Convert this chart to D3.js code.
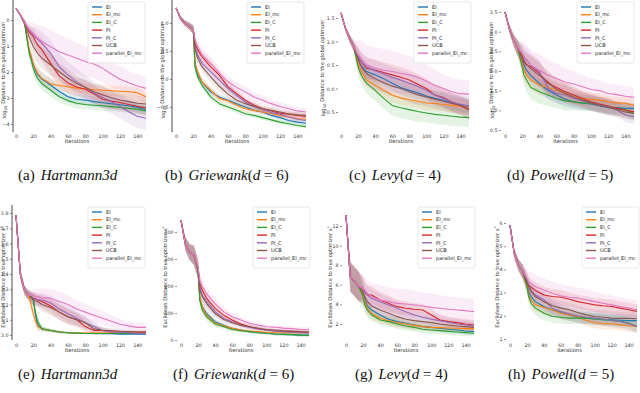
<!DOCTYPE html>
<html><head><meta charset="utf-8">
<script src="https://cdn.jsdelivr.net/npm/d3@7"></script>
<style>body{margin:0;background:#fff}</style>
</head><body>
<svg id="c" width="640" height="393"></svg>
<script>
const iters = [0,5,10,15,20,22,25,30,40,50,60,70,80,90,100,110,120,130,140,150];
const methods = ["EI","EI_mc","EI_C","PI","PI_C","UCB","parallel_EI_mc"];
const colors = ["#1f77b4","#ff7f0e","#2ca02c","#d62728","#9467bd","#8c564b","#e377c2"];
const xTicks = [0,20,40,60,80,100,120,140];

// (a) Hartmann3d, log10 distance to global optimum
const meanA = [
 [0.45,0.19,-0.13,-1.15,-1.73,-1.9,-2.1,-2.28,-2.5,-2.75,-2.95,-3.05,-3.08,-3.14,-3.18,-3.22,-3.26,-3.3,-3.36,-3.45],
 [0.45,0.19,-0.13,-1.1,-1.7,-1.85,-2.05,-2.25,-2.45,-2.52,-2.57,-2.62,-2.65,-2.68,-2.7,-2.72,-2.74,-2.76,-2.8,-2.95],
 [0.45,0.19,-0.15,-1.25,-1.85,-2.05,-2.25,-2.45,-2.7,-2.95,-3.1,-3.2,-3.25,-3.28,-3.3,-3.33,-3.36,-3.4,-3.43,-3.5],
 [0.45,0.19,-0.1,-0.45,-0.64,-0.78,-0.96,-1.15,-1.67,-2.15,-2.42,-2.58,-2.66,-2.85,-3.05,-3.12,-3.17,-3.25,-3.32,-3.38],
 [0.45,0.19,-0.1,-0.38,-0.58,-0.65,-0.74,-0.9,-1.28,-1.8,-2.12,-2.37,-2.59,-2.82,-2.97,-3.14,-3.33,-3.53,-3.7,-3.78],
 [0.45,0.19,-0.12,-0.64,-1.03,-1.13,-1.28,-1.47,-1.73,-1.99,-2.24,-2.44,-2.59,-2.76,-2.88,-2.99,-3.08,-3.14,-3.2,-3.23],
 [0.45,0.19,-0.1,-0.36,-0.51,-0.6,-0.7,-0.83,-1.03,-1.22,-1.35,-1.47,-1.6,-1.69,-1.86,-2.08,-2.28,-2.41,-2.54,-2.63]
];
const sdA = [
 [0,0.05,0.1,0.2,0.25,0.25,0.25,0.25,0.25,0.25,0.22,0.2,0.2,0.2,0.2,0.2,0.2,0.2,0.2,0.2],
 [0,0.05,0.1,0.2,0.25,0.25,0.25,0.25,0.22,0.2,0.2,0.2,0.2,0.2,0.2,0.2,0.2,0.2,0.2,0.2],
 [0,0.05,0.1,0.2,0.25,0.25,0.25,0.25,0.25,0.22,0.2,0.2,0.18,0.18,0.18,0.18,0.18,0.18,0.18,0.18],
 [0,0.05,0.1,0.2,0.3,0.35,0.4,0.45,0.45,0.4,0.4,0.35,0.35,0.35,0.3,0.3,0.3,0.3,0.3,0.3],
 [0,0.05,0.1,0.2,0.3,0.35,0.4,0.45,0.5,0.5,0.5,0.5,0.45,0.45,0.45,0.45,0.45,0.45,0.45,0.45],
 [0,0.05,0.1,0.25,0.35,0.4,0.4,0.4,0.4,0.35,0.35,0.3,0.3,0.3,0.3,0.3,0.3,0.3,0.3,0.3],
 [0,0.05,0.15,0.3,0.4,0.45,0.5,0.6,0.65,0.65,0.65,0.6,0.6,0.55,0.55,0.5,0.5,0.45,0.45,0.45]
];
const yTicksA = [0,-1,-2,-3,-4];

// (b) Griewank(d=6)
const meanB = [
 [1.27,1.09,1.0,0.95,0.88,0.22,0.07,-0.05,-0.23,-0.32,-0.38,-0.44,-0.5,-0.56,-0.59,-0.65,-0.69,-0.74,-0.77,-0.79],
 [1.27,1.09,1.0,0.95,0.88,0.28,0.13,-0.05,-0.2,-0.35,-0.39,-0.47,-0.53,-0.56,-0.59,-0.62,-0.65,-0.68,-0.71,-0.72],
 [1.27,1.09,1.0,0.95,0.88,0.22,0.04,-0.11,-0.32,-0.44,-0.5,-0.56,-0.62,-0.65,-0.69,-0.73,-0.77,-0.8,-0.83,-0.85],
 [1.27,1.09,1.0,0.95,0.88,0.64,0.52,0.4,0.22,0.07,-0.14,-0.26,-0.38,-0.47,-0.53,-0.57,-0.61,-0.63,-0.65,-0.67],
 [1.27,1.09,1.0,0.95,0.88,0.58,0.43,0.28,0.13,-0.02,-0.17,-0.29,-0.41,-0.49,-0.55,-0.6,-0.63,-0.68,-0.72,-0.74],
 [1.27,1.09,1.0,0.95,0.88,0.52,0.37,0.22,0.04,-0.13,-0.27,-0.38,-0.44,-0.49,-0.53,-0.56,-0.59,-0.62,-0.64,-0.65],
 [1.27,1.09,1.0,0.95,0.88,0.7,0.58,0.43,0.28,0.1,-0.05,-0.15,-0.23,-0.32,-0.38,-0.44,-0.49,-0.53,-0.57,-0.59]
];
const sdB_low = [0,0.04,0.05,0.06,0.07,0.1,0.08,0.07,0.06,0.05,0.05,0.05,0.05,0.04,0.04,0.04,0.04,0.04,0.04,0.04];
const sdB_mid = [0,0.04,0.05,0.06,0.08,0.1,0.1,0.1,0.1,0.09,0.08,0.07,0.06,0.06,0.05,0.05,0.05,0.05,0.05,0.05];
const sdB_hi  = [0,0.04,0.05,0.06,0.08,0.12,0.12,0.12,0.12,0.11,0.1,0.1,0.09,0.09,0.08,0.08,0.07,0.07,0.07,0.07];
const yTicksB = [1.0,0.5,0.0,-0.5];

// (c) Levy(d=4)
const meanC = [
 [1.61,1.29,1.07,0.89,0.61,0.54,0.46,0.36,0.29,0.21,0.11,0.02,-0.04,-0.09,-0.16,-0.21,-0.25,-0.31,-0.34,-0.38],
 [1.61,1.29,1.07,0.89,0.54,0.43,0.32,0.18,0.07,-0.04,-0.14,-0.2,-0.24,-0.27,-0.31,-0.32,-0.34,-0.36,-0.38,-0.39],
 [1.61,1.29,1.07,0.89,0.46,0.36,0.24,0.11,-0.04,-0.21,-0.36,-0.41,-0.45,-0.49,-0.52,-0.55,-0.57,-0.59,-0.61,-0.62],
 [1.61,1.29,1.07,0.89,0.68,0.61,0.54,0.43,0.39,0.34,0.29,0.24,0.18,0.09,0.0,-0.14,-0.19,-0.29,-0.36,-0.46],
 [1.61,1.29,1.07,0.89,0.68,0.62,0.55,0.46,0.38,0.31,0.24,0.18,0.11,0.05,-0.04,-0.14,-0.21,-0.29,-0.34,-0.38],
 [1.61,1.29,1.07,0.89,0.64,0.54,0.43,0.32,0.21,0.12,0.05,0.0,-0.07,-0.13,-0.18,-0.23,-0.27,-0.32,-0.36,-0.43],
 [1.61,1.29,1.07,0.89,0.71,0.68,0.61,0.5,0.43,0.39,0.36,0.32,0.29,0.24,0.16,0.07,0.0,-0.07,-0.11,-0.12]
];
const sdC_low = [0,0.05,0.08,0.1,0.15,0.15,0.15,0.15,0.15,0.15,0.15,0.15,0.15,0.15,0.15,0.15,0.15,0.15,0.15,0.15];
const sdC_mid = [0,0.05,0.08,0.1,0.2,0.2,0.2,0.22,0.22,0.22,0.22,0.22,0.22,0.22,0.2,0.2,0.2,0.2,0.2,0.2];
const sdC_hi  = [0,0.05,0.1,0.15,0.3,0.35,0.4,0.42,0.45,0.45,0.45,0.42,0.4,0.38,0.35,0.33,0.3,0.3,0.3,0.3];
const yTicksC = [1.5,1.0,0.5,0.0,-0.5];

// (d) Powell(d=5)
const meanD = [
 [3.5,3.08,2.78,2.57,2.27,2.15,2.02,1.89,1.68,1.51,1.39,1.28,1.22,1.18,1.16,1.11,1.07,1.07,1.05,1.05],
 [3.5,3.08,2.78,2.57,2.19,2.02,1.89,1.77,1.64,1.58,1.51,1.43,1.34,1.3,1.28,1.26,1.22,1.19,1.18,1.13],
 [3.5,3.08,2.78,2.57,2.11,1.89,1.77,1.58,1.47,1.39,1.3,1.24,1.22,1.19,1.18,1.13,1.09,1.05,1.01,0.92],
 [3.5,3.08,2.78,2.57,2.36,2.23,2.15,2.11,1.94,1.68,1.58,1.47,1.39,1.3,1.22,1.16,1.11,1.05,1.01,0.96],
 [3.5,3.08,2.78,2.57,2.44,2.36,2.29,2.15,1.98,1.56,1.43,1.39,1.3,1.24,1.19,1.13,1.09,1.01,0.88,0.84],
 [3.5,3.08,2.78,2.57,2.4,2.27,2.17,2.06,1.89,1.72,1.53,1.43,1.34,1.26,1.19,1.13,1.07,1.02,0.96,0.92],
 [3.5,3.08,2.78,2.57,2.44,2.36,2.27,2.15,2.02,1.89,1.81,1.72,1.67,1.6,1.53,1.5,1.43,1.4,1.36,1.33]
];
const sdD_low = [0,0.1,0.15,0.2,0.25,0.25,0.25,0.25,0.25,0.22,0.2,0.2,0.18,0.18,0.17,0.16,0.15,0.15,0.15,0.15];
const sdD_mid = [0,0.1,0.15,0.2,0.25,0.28,0.3,0.3,0.3,0.28,0.25,0.25,0.22,0.2,0.2,0.2,0.2,0.18,0.18,0.18];
const sdD_hi  = [0,0.1,0.15,0.2,0.3,0.35,0.4,0.4,0.4,0.4,0.38,0.35,0.33,0.3,0.28,0.27,0.25,0.25,0.25,0.25];
const yTicksD = [3.5,3.0,2.5,2.0,1.5,1.0,0.5];

// (e) Hartmann3d, Euclidean distance to true optimizer
const meanE = [
 [3.785,3.40,3.29,3.26,3.23,3.15,3.065,3.04,3.03,3.02,3.015,3.012,3.01,3.01,3.008,3.008,3.006,3.006,3.005,3.005],
 [3.785,3.40,3.29,3.25,3.14,3.1,3.055,3.04,3.03,3.02,3.015,3.012,3.012,3.012,3.012,3.012,3.012,3.012,3.012,3.012],
 [3.785,3.40,3.29,3.26,3.23,3.16,3.09,3.04,3.03,3.02,3.015,3.012,3.01,3.01,3.01,3.01,3.01,3.01,3.01,3.01],
 [3.785,3.40,3.29,3.26,3.24,3.24,3.23,3.22,3.19,3.15,3.12,3.1,3.055,3.03,3.03,3.02,3.02,3.02,3.02,3.02],
 [3.785,3.40,3.29,3.26,3.24,3.235,3.232,3.23,3.21,3.17,3.14,3.11,3.08,3.055,3.03,3.02,3.018,3.015,3.01,3.01],
 [3.785,3.40,3.29,3.26,3.23,3.225,3.22,3.2,3.18,3.15,3.12,3.1,3.08,3.04,3.03,3.03,3.025,3.022,3.02,3.02],
 [3.785,3.40,3.29,3.26,3.26,3.255,3.25,3.245,3.24,3.22,3.2,3.17,3.15,3.13,3.11,3.09,3.07,3.06,3.05,3.05]
];
const sdE_low = [0,0.03,0.03,0.03,0.04,0.04,0.03,0.015,0.01,0.008,0.006,0.005,0.005,0.005,0.005,0.005,0.005,0.005,0.005,0.005];
const sdE_mid = [0,0.03,0.03,0.03,0.04,0.04,0.04,0.045,0.05,0.05,0.05,0.045,0.04,0.03,0.02,0.015,0.012,0.01,0.01,0.01];
const sdE_hi  = [0,0.03,0.03,0.035,0.04,0.045,0.05,0.06,0.065,0.065,0.06,0.06,0.055,0.05,0.045,0.04,0.035,0.03,0.03,0.03];
const yTicksE = [3.8,3.7,3.6,3.5,3.4,3.3,3.2,3.1,3.0];

// (f) Griewank(d=6)
const meanF = [
 [443,357,326,314,258,148,123,98,68,55,43,37,31,28,25,22,21,20,18,18],
 [443,357,326,314,258,160,123,92,62,53,43,37,33,31,28,27,27,27,27,27],
 [443,357,326,314,258,148,111,86,59,49,39,34,31,27,25,22,21,20,18,17],
 [443,357,326,314,265,209,185,154,117,92,74,59,49,43,37,34,33,31,30,28],
 [443,357,326,314,265,197,166,142,105,80,68,55,47,41,37,33,31,28,27,26],
 [443,357,326,314,262,185,160,135,98,76,64,55,49,43,39,37,34,33,31,30],
 [443,357,326,314,268,222,197,172,135,105,86,74,62,55,49,47,44,42,39,39]
];
const sdF_low = [0,25,30,35,35,25,20,15,10,8,7,6,5,5,5,5,5,5,5,5];
const sdF_mid = [0,25,30,35,35,25,22,20,16,12,10,9,8,7,6,6,6,6,6,6];
const sdF_hi  = [0,25,30,35,35,28,25,22,20,16,14,12,10,9,8,8,8,8,8,8];
const yTicksF = [0,100,200,300,400];

// (g) Levy(d=4)
const meanG = [
 [13.1,6.83,6.32,5.81,5.13,4.45,3.84,3.43,2.92,2.48,2.24,2.07,1.9,1.73,1.66,1.56,1.46,1.39,1.29,1.22],
 [13.1,6.83,6.32,5.81,4.96,4.28,3.6,3.09,2.58,2.34,2.14,2.0,1.86,1.73,1.66,1.63,1.59,1.56,1.53,1.53],
 [13.1,6.83,6.32,5.81,4.79,3.94,3.43,2.92,2.41,2.24,2.0,1.8,1.66,1.46,1.39,1.32,1.25,1.18,1.12,1.05],
 [13.1,6.83,6.32,5.81,5.64,5.3,4.96,4.96,4.45,4.1,3.77,3.6,3.5,3.43,2.92,2.41,2.24,2.14,2.0,1.9],
 [13.1,6.83,6.32,5.81,5.64,5.3,4.96,4.62,4.28,3.94,3.6,3.26,2.92,2.68,2.48,2.34,2.17,2.0,1.9,1.8],
 [13.1,6.83,6.32,5.81,5.3,4.79,4.28,3.84,3.43,3.09,2.75,2.48,2.34,2.24,2.14,2.0,1.9,1.8,1.73,1.66],
 [13.1,6.83,6.32,5.81,5.64,5.47,5.13,4.79,4.45,4.28,4.1,4.04,3.94,3.84,3.7,3.6,3.5,3.43,3.36,3.26]
];
const sdG_low = [0,1.5,1.5,1.5,1.0,0.8,0.7,0.6,0.5,0.5,0.5,0.45,0.45,0.4,0.4,0.4,0.4,0.35,0.35,0.35];
const sdG_mid = [0,1.5,1.5,1.5,1.2,1.0,1.0,0.9,0.8,0.8,0.7,0.7,0.65,0.6,0.6,0.55,0.5,0.5,0.5,0.5];
const sdG_hi  = [0,1.5,1.5,1.5,1.3,1.3,1.3,1.4,1.5,1.5,1.5,1.5,1.45,1.4,1.4,1.35,1.3,1.3,1.3,1.3];
const yTicksG = [12,10,8,6,4,2];

// (h) Powell(d=5)
const meanH = [
 [5.9,4.69,4.19,3.9,3.4,3.04,2.83,2.61,2.4,2.26,2.14,2.04,1.94,1.9,1.86,1.83,1.83,1.81,1.79,1.79],
 [5.9,4.69,4.19,3.9,3.33,2.9,2.69,2.47,2.37,2.26,2.11,2.04,1.97,1.8,1.71,1.66,1.66,1.61,1.57,1.54],
 [5.9,4.69,4.19,3.9,3.26,2.83,2.54,2.33,2.11,1.97,1.94,1.9,1.9,1.9,1.86,1.83,1.8,1.76,1.69,1.54],
 [5.9,4.69,4.19,3.9,3.47,3.33,3.23,3.09,2.9,2.83,2.8,2.71,2.61,2.54,2.47,2.43,2.4,2.33,2.26,2.19],
 [5.9,4.69,4.19,3.9,3.54,3.33,3.11,2.9,2.69,2.33,2.19,2.09,2.0,1.94,1.9,1.86,1.8,1.76,1.66,1.54],
 [5.9,4.69,4.19,3.9,3.47,3.26,3.04,2.83,2.61,2.43,2.33,2.26,2.14,2.04,1.97,1.94,1.9,1.89,1.89,1.87],
 [5.9,4.69,4.19,3.9,3.61,3.47,3.4,3.26,3.11,2.97,2.86,2.8,2.76,2.69,2.61,2.54,2.47,2.4,2.33,2.26]
];
const sdH_low = [0,0.2,0.25,0.3,0.3,0.3,0.3,0.3,0.3,0.28,0.27,0.26,0.25,0.25,0.25,0.25,0.25,0.25,0.25,0.25];
const sdH_mid = [0,0.2,0.25,0.3,0.35,0.35,0.35,0.35,0.35,0.33,0.32,0.3,0.3,0.3,0.3,0.3,0.3,0.3,0.3,0.3];
const sdH_hi  = [0,0.2,0.25,0.3,0.4,0.45,0.5,0.5,0.5,0.5,0.5,0.48,0.46,0.45,0.44,0.42,0.4,0.4,0.4,0.4];
const yTicksH = [6,5,4,3,2,1];

const captions = [
 ["(a)", [["Hartmann3d", true]]],
 ["(b)", [["Griewank", true], ["(", false], ["d", true], [" = ", false], ["6)", false]]],
 ["(c)", [["Levy", true], ["(", false], ["d", true], [" = ", false], ["4)", false]]],
 ["(d)", [["Powell", true], ["(", false], ["d", true], [" = ", false], ["5)", false]]],
 ["(e)", [["Hartmann3d", true]]],
 ["(f)", [["Griewank", true], ["(", false], ["d", true], [" = ", false], ["6)", false]]],
 ["(g)", [["Levy", true], ["(", false], ["d", true], [" = ", false], ["4)", false]]],
 ["(h)", [["Powell", true], ["(", false], ["d", true], [" = ", false], ["5)", false]]]
];

const panels = [
 {mean: meanA, sd: sdA, yTicks: yTicksA, fmt: d3.format("d"), top: true},
 {mean: meanB, sd: [sdB_low,sdB_low,sdB_low,sdB_mid,sdB_mid,sdB_mid,sdB_hi], yTicks: yTicksB, fmt: d3.format(".1f"), top: true},
 {mean: meanC, sd: [sdC_low,sdC_low,sdC_mid,sdC_mid,sdC_mid,sdC_mid,sdC_hi], yTicks: yTicksC, fmt: d3.format(".1f"), top: true},
 {mean: meanD, sd: [sdD_low,sdD_low,sdD_mid,sdD_mid,sdD_mid,sdD_mid,sdD_hi], yTicks: yTicksD, fmt: d3.format(".1f"), top: true},
 {mean: meanE, sd: [sdE_low,sdE_low,sdE_low,sdE_mid,sdE_mid,sdE_mid,sdE_hi], yTicks: yTicksE, fmt: d3.format(".1f"), top: false},
 {mean: meanF, sd: [sdF_low,sdF_low,sdF_low,sdF_mid,sdF_mid,sdF_mid,sdF_hi], yTicks: yTicksF, fmt: d3.format("d"), top: false},
 {mean: meanG, sd: [sdG_low,sdG_low,sdG_low,sdG_mid,sdG_mid,sdG_mid,sdG_hi], yTicks: yTicksG, fmt: d3.format("d"), top: false},
 {mean: meanH, sd: [sdH_low,sdH_low,sdH_low,sdH_mid,sdH_mid,sdH_mid,sdH_hi], yTicks: yTicksH, fmt: d3.format("d"), top: false}
];

// layout (pixels)
const layout = [
 {sx:13,  x0:16,  x1:146, yv:[0,-4],    yp:[20,124],  leg:[88,2],    ylab:[4,70],    spine:true,  cap:[18,180]},
 {sx:172, x0:176, x1:306, yv:[1,-0.5],  yp:[23,107],  leg:[247,2],   ylab:[163,70],  spine:true,  cap:[165,180]},
 {sx:338, x0:341, x1:469, yv:[1.5,-0.5],yp:[18,112],  leg:[414,2],   ylab:[323,68],  spine:false, cap:[349,180]},
 {sx:501, x0:505, x1:634, yv:[3.5,0.5], yp:[12,130],  leg:[577,2],   ylab:[492,70],  spine:false, cap:[507,180]},
 {sx:12,  x0:16,  x1:146, yv:[3.8,3.0], yp:[213,335], leg:[88,207],  ylab:[3,277],   spine:true,  cap:[18,379]},
 {sx:177, x0:181, x1:309, yv:[0,400],   yp:[340,232], leg:[253,207], ylab:[165,277], spine:false, cap:[173,379]},
 {sx:342, x0:346, x1:474, yv:[12,2],    yp:[226,324], leg:[418,207], ylab:[330,277], spine:false, cap:[355,379]},
 {sx:506, x0:510, x1:637, yv:[6,1],     yp:[223,339], leg:[582,207], ylab:[497,277], spine:false, cap:[508,379]}
];

const svg = d3.select("#c");
svg.append("rect").attr("width",640).attr("height",393).attr("fill","#fff");

panels.forEach((P, pi) => {
  const L = layout[pi];
  const top = P.top ? 0 : 205, bot = P.top ? 132 : 340;
  const x = d3.scaleLinear().domain([0,150]).range([L.x0, L.x1]);
  const y = d3.scaleLinear().domain(L.yv).range(L.yp);
  const g = svg.append("g");

  // bands
  P.mean.forEach((m, k) => {
    const sd = P.sd[k];
    const area = d3.area()
      .x((d,i) => x(iters[i]))
      .y0((d,i) => y(m[i] - sd[i]))
      .y1((d,i) => y(m[i] + sd[i]));
    g.append("path").attr("d", area(m)).attr("fill", colors[k]).attr("fill-opacity", 0.13);
  });
  // lines
  P.mean.forEach((m, k) => {
    const line = d3.line().x((d,i) => x(iters[i])).y(d => y(d));
    g.append("path").attr("d", line(m)).attr("fill","none")
      .attr("stroke", colors[k]).attr("stroke-width", 1.1).attr("stroke-linejoin","round");
  });

  // spine
  if (L.spine) {
    g.append("line").attr("x1", L.sx).attr("x2", L.sx).attr("y1", top).attr("y2", bot)
      .attr("stroke", "#333").attr("stroke-width", 0.9);
  }

  // y axis
  const ya = d3.axisLeft(y).tickValues(P.yTicks).tickSize(2).tickPadding(1.5).tickFormat(P.fmt);
  const yg = g.append("g").attr("transform", `translate(${L.sx},0)`).call(ya);
  yg.select(".domain").remove();
  yg.selectAll(".tick line").attr("stroke", "#444").attr("stroke-width", 0.6);
  yg.selectAll("text").attr("font-size", 4.8).attr("font-family", "DejaVu Sans").attr("fill", "#333");

  // x axis
  const xa = d3.axisBottom(x).tickValues(xTicks).tickSize(0).tickPadding(0);
  const xg = g.append("g").attr("transform", `translate(0,${P.top ? 137.5 : 346.5})`).call(xa);
  xg.select(".domain").remove();
  xg.selectAll("text").attr("y", 0).attr("dy", 0).attr("font-size", 4.8)
    .attr("font-family", "DejaVu Sans").attr("fill", "#333");

  // x label
  g.append("text").attr("x", (L.x0 + L.x1) / 2 - 4).attr("y", P.top ? 143 : 351.5)
    .attr("text-anchor", "middle").attr("font-size", 5.2).attr("font-family", "DejaVu Sans")
    .attr("fill", "#333").text("Iterations");

  // y label
  const yl = g.append("text").attr("transform", `translate(${L.ylab[0]},${L.ylab[1]}) rotate(-90)`)
    .attr("text-anchor", "middle").attr("dy", "0.35em").attr("font-size", 5.2)
    .attr("font-family", "DejaVu Sans").attr("fill", "#333");
  if (P.top) {
    yl.append("tspan").text("log");
    yl.append("tspan").attr("font-size", 3.8).attr("dy", "0.25em").text("10");
    yl.append("tspan").attr("dy", "-0.25em").text(" Distance to the global optimum");
  } else {
    yl.append("tspan").text("Euclidean Distance to true optimizer x");
    yl.append("tspan").attr("font-size", 3.8).attr("dy", "-0.45em").text("*");
  }

  // legend
  const lg = g.append("g").attr("transform", `translate(${L.leg[0]},${L.leg[1]})`);
  lg.append("rect").attr("width", 57).attr("height", 61).attr("rx", 2)
    .attr("fill", "#fff").attr("fill-opacity", 0.8).attr("stroke", "#d8d8d8").attr("stroke-width", 0.6);
  methods.forEach((m, k) => {
    const yy = 5 + k * 7.7;
    lg.append("line").attr("x1", 4).attr("x2", 14).attr("y1", yy).attr("y2", yy)
      .attr("stroke", colors[k]).attr("stroke-width", 1.4);
    lg.append("text").attr("x", 18).attr("y", yy + 1.7).attr("font-size", 5)
      .attr("font-family", "DejaVu Sans").attr("fill", "#222").text(m);
  });

  // caption
  const cap = captions[pi];
  const ct = svg.append("text").attr("x", L.cap[0]).attr("y", L.cap[1])
    .attr("font-family", "Liberation Serif").attr("font-size", 15).attr("fill", "#111");
  ct.append("tspan").text(cap[0]);
  cap[1].forEach((p, j) => {
    const ts = ct.append("tspan").text(p[0]);
    if (j === 0) ts.attr("dx", 6);
    if (p[1]) ts.attr("font-style", "italic");
  });
});
</script>
</body></html>
